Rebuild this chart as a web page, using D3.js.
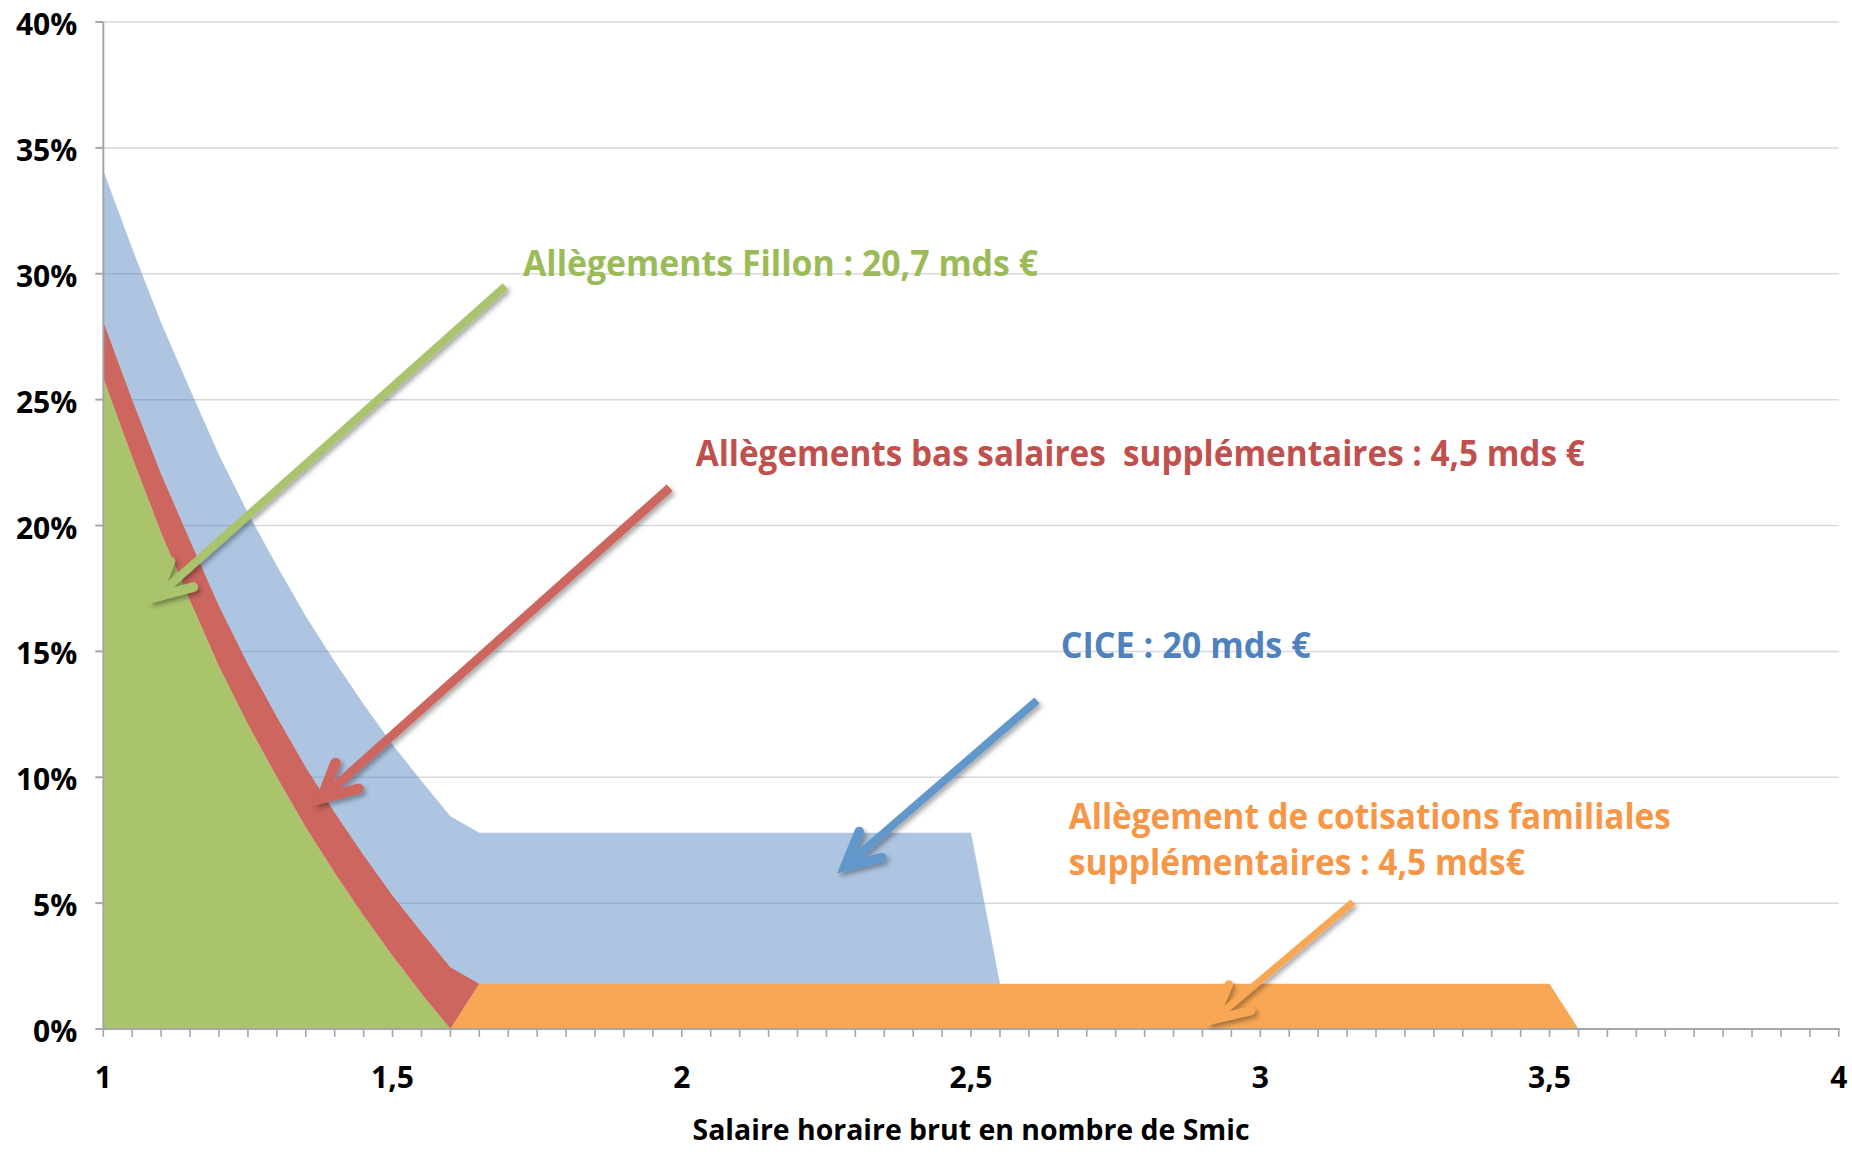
<!DOCTYPE html>
<html><head><meta charset="utf-8">
<script src="https://cdn.jsdelivr.net/npm/d3@7"></script>
<style>
body{margin:0;background:#fff}
text{font-family:"Open Sans","Noto Sans",sans-serif}
</style>
</head><body>
<svg id="chart" width="1852" height="1152"></svg>
<script>
// ---- data ----
const salaire     = [1.00,1.05,1.10,1.15,1.20,1.25,1.30,1.35,1.40,1.45,1.50,1.55,1.60,1.65,2.50,2.55,3.50,3.55,4.00];
const fillon      = [25.85,22.7,19.7,17.0,14.4,12.1,10.0,8.0,6.2,4.5,2.9,1.4,0,0,0,0,0,0,0];
const familiales  = [0,0,0,0,0,0,0,0,0,0,0,0,0,1.8,1.8,1.8,1.8,0,0];
const basSalaires = [2.25,2.3,2.35,2.4,2.4,2.4,2.4,2.4,2.4,2.4,2.4,2.45,2.45,0,0,0,0,0,0];
const cice        = [6.0,6.0,6.0,6.0,6.0,6.0,6.0,6.0,6.0,6.0,6.0,6.0,6.0,6.0,6.0,0,0,0,0];

const xTickValues = [1,1.5,2,2.5,3,3.5,4];
const xTickLabels = ["1","1,5","2","2,5","3","3,5","4"];
const yTickValues = [0,5,10,15,20,25,30,35,40];
const yTickLabels = ["0%","5%","10%","15%","20%","25%","30%","35%","40%"];
const xTitle = "Salaire horaire brut en nombre de Smic";

const seriesKeys   = ["fillon","familiales","basSalaires","cice"];
const seriesColors = {fillon:"#AAC46C", familiales:"#F8A754", basSalaires:"#CC665E", cice:"#4F81BD"};
const seriesOpacity= {fillon:1, familiales:1, basSalaires:1, cice:0.46};

// annotation labels (data coordinates: x in Smic, y in %)
const labelTexts  = ["Allègements Fillon : 20,7 mds €",
                     "Allègements bas salaires  supplémentaires : 4,5 mds €",
                     "CICE : 20 mds €",
                     "Allègement de cotisations familiales",
                     "supplémentaires : 4,5 mds€"];
const labelX      = [1.7255, 2.024, 2.655, 2.669, 2.669];
const labelY      = [29.93, 22.38, 14.72, 7.95, 6.12];
const labelWidth  = [515, 889, 250, 602, 456];
const labelColors = ["#9BBB59","#C0504D","#4F81BD","#F79646","#F79646"];

// arrows: start -> tip (data coordinates)
const arrowX0 = [1.695, 1.979, 2.614, 3.160];
const arrowY0 = [29.5, 21.5, 13.05, 5.04];
const arrowX1 = [1.0923, 1.3775, 2.282, 2.920];
const arrowY1 = [17.17, 9.16, 6.45, 0.38];
const arrowColors = ["#A9C46C","#CC665E","#6297CB","#F8A754"];
const arrowWidths = [8, 9, 8, 7];

// ---- chart ----
const svg = d3.select("#chart");
const x = d3.scaleLinear().domain([1,4]).range([103.3,1838.8]);
const y = d3.scaleLinear().domain([0,40]).range([1029,22]);

const defs = svg.append("defs");
const f = defs.append("filter").attr("id","shadow").attr("x","-20%").attr("y","-20%").attr("width","140%").attr("height","140%");
f.append("feDropShadow").attr("dx",2.5).attr("dy",3).attr("stdDeviation",2.5)
 .attr("flood-color","#000").attr("flood-opacity",0.35);

// gridlines
svg.append("g").selectAll("line").data(yTickValues.filter(d=>d>0)).join("line")
  .attr("x1",x(1)).attr("x2",x(4)).attr("y1",d=>y(d)).attr("y2",d=>y(d))
  .attr("stroke","#D9D9D9").attr("stroke-width",1.5);

// stacked areas
const table = salaire.map((s,i)=>({x:s, fillon:fillon[i], familiales:familiales[i], basSalaires:basSalaires[i], cice:cice[i]}));
const stacked = d3.stack().keys(seriesKeys)(table);
const area = d3.area().x(d=>x(d.data.x)).y0(d=>y(d[0])).y1(d=>y(d[1])).curve(d3.curveLinear);
svg.append("g").selectAll("path").data(stacked).join("path")
  .attr("d",area)
  .attr("fill",d=>seriesColors[d.key])
  .attr("fill-opacity",d=>seriesOpacity[d.key]);

// axes
const axisColor = "#A6A6A6";
const ax = svg.append("g");
ax.append("line").attr("x1",x(1)).attr("x2",x(1)).attr("y1",y(40)).attr("y2",y(0)+1)
  .attr("stroke",axisColor).attr("stroke-width",2);
ax.append("line").attr("x1",x(1)-1).attr("x2",x(4)+1).attr("y1",y(0)).attr("y2",y(0))
  .attr("stroke",axisColor).attr("stroke-width",2);
ax.selectAll(".yt").data(yTickValues).join("line").attr("class","yt")
  .attr("x1",x(1)-8).attr("x2",x(1)).attr("y1",d=>y(d)).attr("y2",d=>y(d))
  .attr("stroke",axisColor).attr("stroke-width",2);
const minor = d3.range(0,61).map(i=>1+i*0.05);
ax.selectAll(".xt").data(minor).join("line").attr("class","xt")
  .attr("x1",d=>x(d)).attr("x2",d=>x(d)).attr("y1",y(0)).attr("y2",y(0)+8)
  .attr("stroke",axisColor).attr("stroke-width",1.6);

// tick labels
svg.append("g").selectAll("text").data(yTickValues).join("text")
  .attr("x",x(1)-26).attr("y",d=>y(d)+13)
  .attr("text-anchor","end").attr("font-size",30).attr("font-weight",700).attr("fill","#000")
  .text((d,i)=>yTickLabels[i]);
svg.append("g").selectAll("text").data(xTickValues).join("text")
  .attr("x",d=>x(d)).attr("y",y(0)+59)
  .attr("text-anchor","middle").attr("font-size",30).attr("font-weight",700).attr("fill","#000")
  .text((d,i)=>xTickLabels[i]);

// axis title
svg.append("text").attr("x",(x(1)+x(4))/2).attr("y",1140)
  .attr("text-anchor","middle").attr("font-size",28).attr("font-weight",700).attr("fill","#000")
  .attr("textLength",557).attr("lengthAdjust","spacingAndGlyphs")
  .text(xTitle);

// arrows
const ag = svg.append("g");
arrowX0.forEach((_,i)=>{
  const sx=x(arrowX0[i]), sy=y(arrowY0[i]), tx=x(arrowX1[i]), ty=y(arrowY1[i]);
  const ang = Math.atan2(sy-ty, sx-tx);
  const L = 38, a = 27*Math.PI/180;
  const p1 = [tx+L*Math.cos(ang+a), ty+L*Math.sin(ang+a)];
  const p2 = [tx+L*Math.cos(ang-a), ty+L*Math.sin(ang-a)];
  const g = ag.append("g").attr("filter","url(#shadow)");
  g.append("path").attr("d",`M${sx},${sy}L${tx},${ty}`)
    .attr("stroke",arrowColors[i]).attr("stroke-width",arrowWidths[i]).attr("fill","none");
  g.append("path").attr("d",`M${p1[0]},${p1[1]}L${tx},${ty}L${p2[0]},${p2[1]}`)
    .attr("stroke",arrowColors[i]).attr("stroke-width",arrowWidths[i]+1.5).attr("fill","none")
    .attr("stroke-linecap","round").attr("stroke-linejoin","miter");
});

// labels
svg.append("g").selectAll("text").data(labelTexts).join("text")
  .attr("x",(d,i)=>x(labelX[i])).attr("y",(d,i)=>y(labelY[i]))
  .attr("font-size",35).attr("font-weight",700)
  .attr("fill",(d,i)=>labelColors[i])
  .attr("textLength",(d,i)=>labelWidth[i]).attr("lengthAdjust","spacingAndGlyphs")
  .style("white-space","pre")
  .text(d=>d);
</script>
</body></html>
